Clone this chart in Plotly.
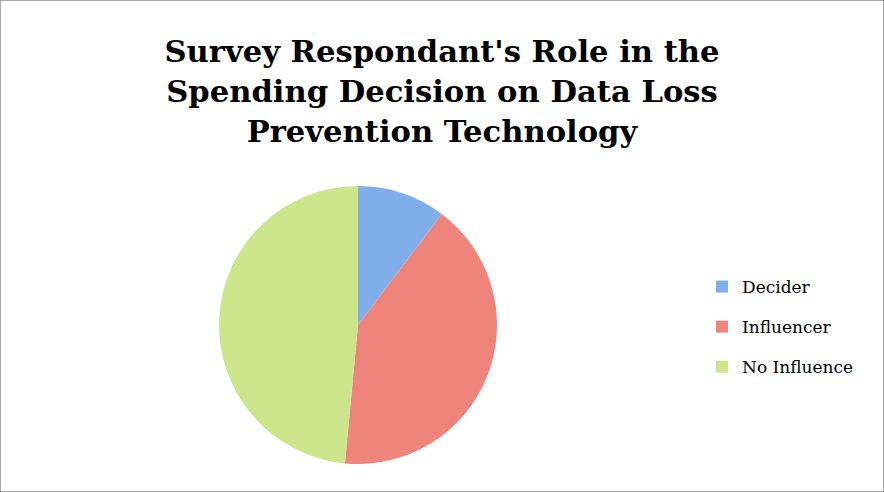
import plotly.graph_objects as go

labels = ["Decider", "Influencer", "No Influence"]
values = [10.3, 41.2, 48.5]
colors = ["#80aeea", "#ee847c", "#cde68c"]
title_text = "Survey Respondant's Role in the<br>Spending Decision on Data Loss<br>Prevention Technology"

W, H = 884, 492
cx, cy, r = 358, 325, 139

fig = go.Figure()
fig.add_trace(go.Pie(
    labels=labels, values=values, sort=False, direction="clockwise", rotation=0,
    marker=dict(colors=colors, line=dict(width=0)),
    textinfo="none", hoverinfo="label+percent", showlegend=False,
    domain=dict(x=[(cx - r) / W, (cx + r) / W], y=[(H - cy - r) / H, (H - cy + r) / H]),
))
for lab, col in zip(labels, colors):
    fig.add_trace(go.Scatter(
        x=[None], y=[None], mode="markers", name=lab, legendgroup=lab,
        marker=dict(symbol="square", size=10, color=col), hoverinfo="skip",
    ))

fig.update_layout(
    width=W, height=H,
    margin=dict(l=0, r=0, t=0, b=0),
    paper_bgcolor="white", plot_bgcolor="white",
    xaxis=dict(visible=False), yaxis=dict(visible=False),
    title=dict(
        text=title_text,
        x=0.5, xanchor="center", y=1 - 62 / H, yanchor="middle",
        font=dict(family="DejaVu Serif", size=30.6, color="black", weight="bold"),
    ),
    legend=dict(
        x=702 / W, xanchor="left", y=1 - 327 / H, yanchor="middle",
        font=dict(family="DejaVu Serif", size=17, color="black"),
        bgcolor="rgba(0,0,0,0)", tracegroupgap=15, itemsizing="constant",
    ),
    shapes=[dict(type="rect", xref="paper", yref="paper", x0=0, y0=0, x1=1, y1=1,
                 line=dict(color="#8c8c8c", width=1.5))],
)

fig.write_html("out.html", config={"displayModeBar": False},
               post_script="document.body.style.margin='0';")
